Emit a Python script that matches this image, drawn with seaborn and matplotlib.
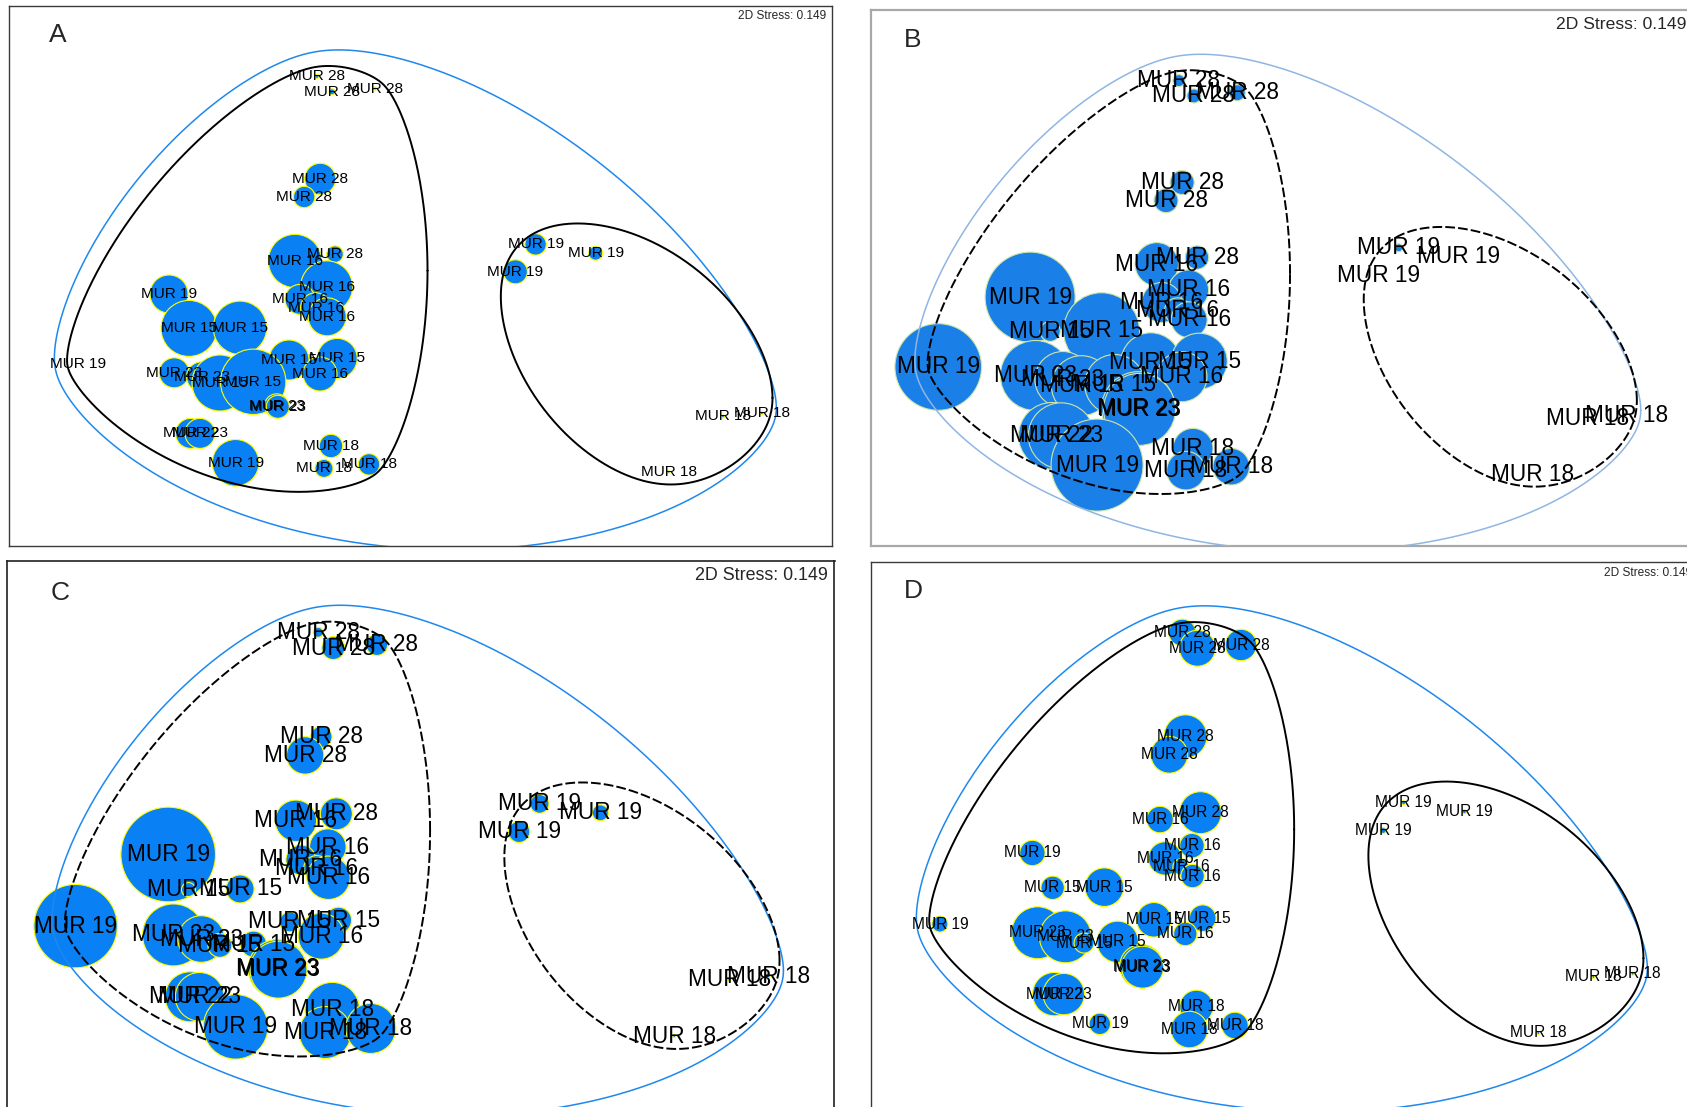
import numpy as np
import pandas as pd
import matplotlib
matplotlib.use("Agg")
import matplotlib.pyplot as plt
import seaborn as sns

# nMDS ordination (same for all four panels)
labels = ["MUR 28", "MUR 28", "MUR 28", "MUR 28", "MUR 28", "MUR 16", "MUR 28", "MUR 16",
          "MUR 16", "MUR 16", "MUR 16", "MUR 19", "MUR 15", "MUR 15", "MUR 15", "MUR 15",
          "MUR 16", "MUR 23", "MUR 23", "MUR 15", "MUR 15", "MUR 23", "MUR 23", "MUR 22",
          "MUR 23", "MUR 19", "MUR 18", "MUR 18", "MUR 18", "MUR 19",
          "MUR 19", "MUR 19", "MUR 19", "MUR 18", "MUR 18", "MUR 18"]
mds_x = [-0.515, -0.440, -0.225, -0.499, -0.579, -0.625, -0.425, -0.467, -0.600, -0.522,
         -0.464, -1.255, -1.155, -0.900, -0.655, -0.414, -0.500, -1.229, -1.092, -1.000,
         -0.834, -0.717, -0.711, -1.147, -1.100, -0.922, -0.445, -0.480, -0.255, -1.712,
         0.578, 0.878, 0.477, 1.515, 1.709, 1.243]
mds_y = [0.968, 0.891, 0.907, 0.456, 0.365, 0.045, 0.079, -0.084, -0.147, -0.189,
         -0.234, -0.120, -0.292, -0.289, -0.450, -0.442, -0.520, -0.514, -0.534, -0.565,
         -0.559, -0.679, -0.684, -0.817, -0.817, -0.964, -0.880, -0.992, -0.972, -0.471,
         0.128, 0.084, -0.009, -0.732, -0.716, -1.009]
cluster = ["left"] * 30 + ["right"] * 6

# bubble values for the four variables (A-D)
bubble_a = [0.20, 0.30, 0.15, 1.55, 1.07, 2.67, 0.83, 2.60, 1.50, 1.50, 1.90, 1.90, 2.80, 2.67,
            2.00, 2.00, 1.70, 1.50, 1.50, 2.80, 3.27, 1.20, 1.15, 1.50, 1.50, 2.33, 1.17, 0.90,
            1.07, 0.00, 1.07, 0.70, 1.20, 0.15, 0.15, 0.15]
bubble_b = [0.60, 0.70, 0.80, 1.20, 1.20, 2.17, 1.17, 2.00, 2.00, 1.30, 1.80, 4.50, 1.00, 3.80,
            3.00, 2.80, 2.50, 3.50, 2.80, 3.00, 3.00, 3.67, 3.60, 3.33, 3.30, 4.60, 2.00, 1.93,
            1.83, 4.33, 0.40, 0.00, 0.00, 0.00, 0.00, 0.00]
bubble_c = [0.50, 1.15, 1.07, 1.07, 1.87, 2.07, 1.60, 1.83, 1.50, 1.30, 2.17, 4.73, 0.70, 1.40,
            1.00, 1.30, 2.30, 3.10, 2.33, 1.20, 1.30, 2.90, 2.85, 2.50, 2.43, 3.23, 2.73, 2.60,
            2.50, 4.17, 0.94, 0.80, 1.07, 0.15, 0.15, 0.15]
bubble_d = [1.35, 1.80, 1.57, 2.15, 1.84, 1.33, 2.10, 1.23, 1.67, 0.80, 1.17, 1.27, 1.17, 1.93,
            1.73, 1.33, 1.17, 2.60, 2.60, 1.00, 2.07, 2.17, 2.10, 2.17, 2.07, 1.07, 1.67, 1.83,
            1.33, 0.80, 0.20, 0.20, 0.30, 0.15, 0.15, 0.15]

stress = "2D Stress: 0.149"

df = pd.DataFrame({"label": labels, "x": mds_x, "y": mds_y, "cluster": cluster,
                   "A": bubble_a, "B": bubble_b, "C": bubble_c, "D": bubble_d})

W, H = 1687, 1107
REF_CX, REF_CY, REF_S = 420.0, 270.0, 200.0   # panel A pixels per MDS unit

sns.set_theme(style="white")
plt.rcParams["font.family"] = ["Liberation Sans", "DejaVu Sans"]

fig = plt.figure(figsize=(W / 100, H / 100), dpi=100)


def smooth_hull(x, y, pad, kc, n=720):
    # smoothed convex outline: low-pass filtered support function
    x = np.asarray(x)
    y = np.asarray(y)
    cx, cy = x.mean(), y.mean()
    th = np.linspace(0, 2 * np.pi, n, endpoint=False)
    proj = (x[:, None] - cx) * np.cos(th) + (y[:, None] - cy) * np.sin(th)
    h = proj.max(axis=0) + pad
    spec = np.fft.rfft(h)
    k = np.arange(spec.size)
    spec = spec * np.exp(-(k / kc) ** 2)
    h = np.fft.irfft(spec, n)
    dh = np.fft.irfft(1j * k * spec, n)
    hx = cx + h * np.cos(th) - dh * np.sin(th)
    hy = cy + h * np.sin(th) + dh * np.cos(th)
    return np.append(hx, hx[0]), np.append(hy, hy[0])


left = df[df.cluster == "left"]
right = df[df.cluster == "right"]
hull_left = smooth_hull(left.x, left.y, 0.09, 5.0)
hull_right = smooth_hull(right.x, right.y, 0.11, 3.0)
hull_all = smooth_hull(df.x, df.y, 0.175, 4.5)

panels = [
    dict(col="A", box=(9, 5.5, 832, 545.5), sx=1.0, ox=0.0, sy=1.0, oy=0.0, fs=11.1,
         letter_xy=(58, 35.5), stress_xy=(826, 16), stress_fs=8.6, stress_ha="right",
         frame="#3a3a3a", frame_lw=1.0, fill="#0a80f5", edge="#ffff00",
         blue="#1e88ee", blue_lw=1.1, ls="-"),
    dict(col="B", box=(871, 9.5, 1700, 545.5), sx=1.0054, ox=860.2, sy=0.995, oy=4.6, fs=16.3,
         letter_xy=(913, 39.6), stress_xy=(1556, 24.5), stress_fs=12.6, stress_ha="left",
         frame="#a8a8a8", frame_lw=1.6, fill="#1a7fe6", edge="#cfe6a8",
         blue="#8fb6e2", blue_lw=1.1, ls=(0, (5, 1.6))),
    dict(col="C", box=(6.5, 560.5, 834.5, 1130), sx=1.013, ox=-3.0, sy=1.021, oy=554.3, fs=16.3,
         letter_xy=(60, 593), stress_xy=(828, 575.6), stress_fs=12.9, stress_ha="right",
         frame="#202020", frame_lw=1.2, fill="#0a80f5", edge="#ffff00",
         blue="#1e88ee", blue_lw=1.1, ls=(0, (5, 1.6))),
    dict(col="D", box=(871, 561.5, 1700, 1130), sx=1.0125, ox=861.3, sy=1.0125, oy=555.3, fs=11.2,
         letter_xy=(913, 590.5), stress_xy=(1604.5, 573), stress_fs=8.6, stress_ha="left",
         frame="#3a3a3a", frame_lw=1.0, fill="#0a80f5", edge="#ffff00",
         blue="#1e88ee", blue_lw=1.1, ls="-"),
]

for p in panels:
    L, T, R, B = p["box"]
    ax = fig.add_axes([L / W, 1 - B / H, (R - L) / W, (B - T) / H])
    to_mx = lambda px: ((px - p["ox"]) / p["sx"] - REF_CX) / REF_S
    to_my = lambda py: (REF_CY - (py - p["oy"]) / p["sy"]) / REF_S
    ax.set_xlim(to_mx(L), to_mx(R))
    ax.set_ylim(to_my(B), to_my(T))
    ax.set_xticks([])
    ax.set_yticks([])
    for sp in ax.spines.values():
        sp.set_color(p["frame"])
        sp.set_linewidth(p["frame_lw"])

    # bubble radius (px) = 10 * value ; area in pt^2
    vmax = 6.0
    smax = (2 * 10 * vmax * 0.72) ** 2
    sns.scatterplot(data=df, x="x", y="y", size=df[p["col"]] ** 2, sizes=(0, smax),
                    size_norm=(0, vmax ** 2), color=p["fill"], edgecolor=p["edge"],
                    linewidth=0.8, legend=False, ax=ax, zorder=2)
    ax.set_xlabel("")
    ax.set_ylabel("")

    ax.plot(*hull_all, color=p["blue"], lw=p["blue_lw"], zorder=3)
    ax.plot(*hull_left, color="black", lw=1.4, ls=p["ls"], zorder=3)
    ax.plot(*hull_right, color="black", lw=1.4, ls=p["ls"], zorder=3)

    for lab, x, y in zip(df.label, df.x, df.y):
        ax.text(x, y, lab, ha="center", va="center", fontsize=p["fs"], color="black", zorder=4)

    fig.text(p["letter_xy"][0] / W, 1 - p["letter_xy"][1] / H, p["col"], fontsize=19,
             ha="center", va="center")
    fig.text(p["stress_xy"][0] / W, 1 - p["stress_xy"][1] / H, stress, fontsize=p["stress_fs"],
             ha=p["stress_ha"], va="center")

fig.savefig("out.png", dpi=100)
